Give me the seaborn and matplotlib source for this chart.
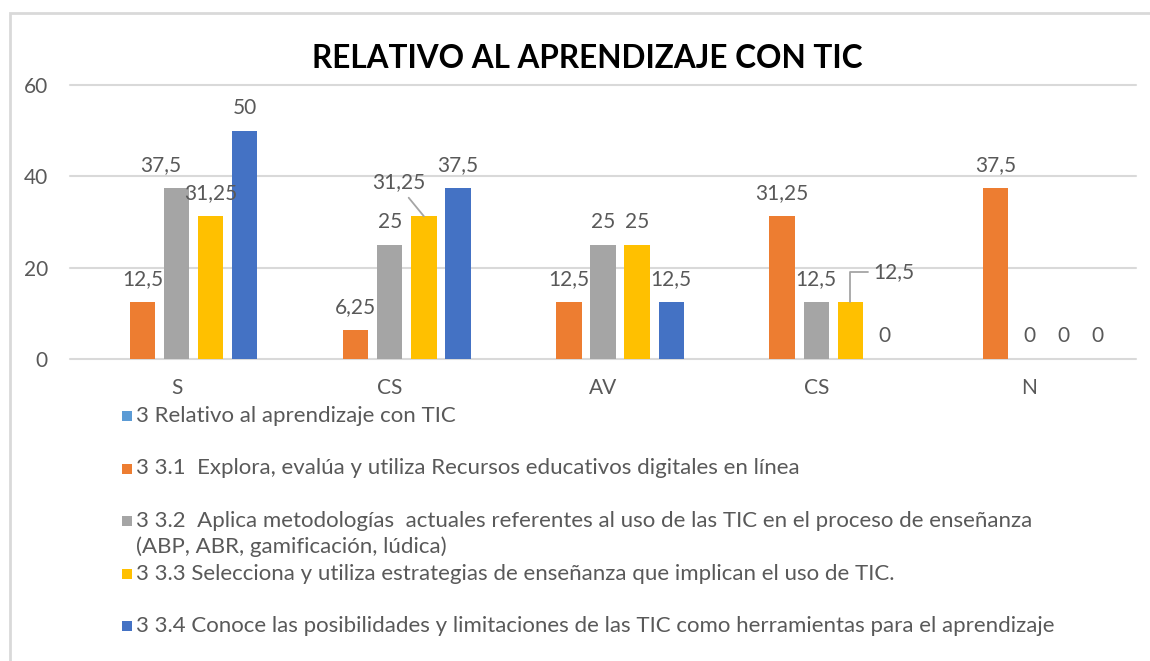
import numpy as np
import pandas as pd
import matplotlib
matplotlib.use("Agg")
import matplotlib.pyplot as plt
from matplotlib.patches import Rectangle
import seaborn as sns

# Data
categories = ["S", "CS", "AV", "CS", "N"]
series_labels = [
    "3 Relativo al aprendizaje con TIC",
    "3 3.1  Explora, evalúa y utiliza Recursos educativos digitales en línea",
    "3 3.2  Aplica metodologías  actuales referentes al uso de las TIC en el proceso de enseñanza\n(ABP, ABR, gamificación, lúdica)",
    "3 3.3 Selecciona y utiliza estrategias de enseñanza que implican el uso de TIC.",
    "3 3.4 Conoce las posibilidades y limitaciones de las TIC como herramientas para el aprendizaje",
]
s3_0 = [np.nan, np.nan, np.nan, np.nan, np.nan]  # empty series (no bars)
s3_1 = [12.5, 6.25, 12.5, 31.25, 37.5]
s3_2 = [37.5, 25, 25, 12.5, 0]
s3_3 = [31.25, 31.25, 25, 12.5, 0]
s3_4 = [50, 37.5, 12.5, 0, 0]
colors = ["#5B9BD5", "#ED7D31", "#A5A5A5", "#FFC000", "#4472C4"]

all_series = [s3_0, s3_1, s3_2, s3_3, s3_4]
keys = ["3", "3.1", "3.2", "3.3", "3.4"]
pos_keys = [str(i) for i in range(len(categories))]

rows = []
for key, vals in zip(keys, all_series):
    for p, v in zip(pos_keys, vals):
        rows.append({"pos": p, "serie": key, "valor": v})
df = pd.DataFrame(rows)

sns.set_style("white")
FONT = ["Lato", "DejaVu Sans"]
plt.rcParams["font.family"] = FONT
TXT = "#595959"

fig = plt.figure(figsize=(11.5, 6.61), dpi=100)
W, H = 1150, 661
ax = fig.add_axes([70 / W, 1 - 359 / H, (1136 - 70) / W, (359 - 85) / H])

sns.barplot(data=df, x="pos", y="valor", hue="serie", order=pos_keys,
            hue_order=keys, palette=colors, width=0.8, gap=0.26,
            saturation=1, errorbar=None, legend=False, linewidth=0, ax=ax)

ax.set_xlim(-0.5, len(categories) - 0.5)
ax.set_ylim(0, 60)
ax.set_yticks([0, 20, 40, 60])
ax.set_xticks(range(len(categories)))
ax.set_xticklabels(categories)
ax.set_xlabel("")
ax.set_ylabel("")
ax.tick_params(axis="y", length=0, pad=16, labelsize=15, labelcolor=TXT)
ax.tick_params(axis="x", length=0, pad=14, labelsize=15, labelcolor=TXT)
for s in ax.spines.values():
    s.set_visible(False)
ax.grid(axis="y", color="#D9D9D9", linewidth=1.5)
ax.set_axisbelow(True)
for gl in ax.yaxis.get_gridlines():
    gl.set_clip_on(False)


def fmt(v):
    return f"{v:g}".replace(".", ",")


# label offsets in pixels for labels Excel moved (series idx, category idx)
moved = {
    (2, 0): (-16, 0, None),
    (3, 1): (-25, 11, "line"),
    (3, 3): (44, 7, "elbow"),
}

labeled = [(i, vals) for i, vals in enumerate(all_series) if not np.all(np.isnan(vals))]
containers = ax.containers[-len(labeled):]
for cont, (si, vals) in zip(containers, labeled):
    for ci, (bar, v) in enumerate(zip(cont.patches, vals)):
        x = bar.get_x() + bar.get_width() / 2
        dx, dy, kind = moved.get((si, ci), (0, 0, None))
        kw = {}
        if kind == "line":
            kw["arrowprops"] = dict(arrowstyle="-", color="#A5A5A5", lw=1.3,
                                    shrinkA=2, shrinkB=0, relpos=(0.6, 0.0))
        elif kind == "elbow":
            kw["arrowprops"] = dict(arrowstyle="-", color="#A5A5A5", lw=1.3,
                                    shrinkA=2, shrinkB=0, relpos=(0.0, 0.5),
                                    connectionstyle="angle,angleA=0,angleB=90,rad=0")
        ax.annotate(fmt(v), xy=(x, v), xytext=(dx, 23 + dy),
                    textcoords="offset pixels", ha="center", va="center",
                    fontsize=15, color=TXT, annotation_clip=False, **kw)

fig.text(587 / W, 1 - 58 / H, "RELATIVO AL APRENDIZAJE CON TIC",
         ha="center", va="center", fontsize=22.7, fontweight="bold", color="black")

# legend below the chart, Excel style
leg_y0, leg_step, line_h = 416, 52.5, 26
for k, (lab, col) in enumerate(zip(series_labels, colors)):
    y = leg_y0 + k * leg_step
    fig.add_artist(Rectangle((122 / W, 1 - (y + 5) / H), 10 / W, 10 / H,
                             transform=fig.transFigure, facecolor=col,
                             edgecolor="none"))
    for j, line in enumerate(lab.split("\n")):
        fig.text(136 / W, 1 - (y + j * line_h) / H, line, ha="left",
                 va="center", fontsize=16, color=TXT)

# chart frame
fig.add_artist(Rectangle((10 / W, -0.1), 2, 1 - 13 / H + 0.1,
                         transform=fig.transFigure, fill=False,
                         edgecolor="#D9D9D9", linewidth=2))

fig.savefig("out.png", dpi=100, facecolor="white")
